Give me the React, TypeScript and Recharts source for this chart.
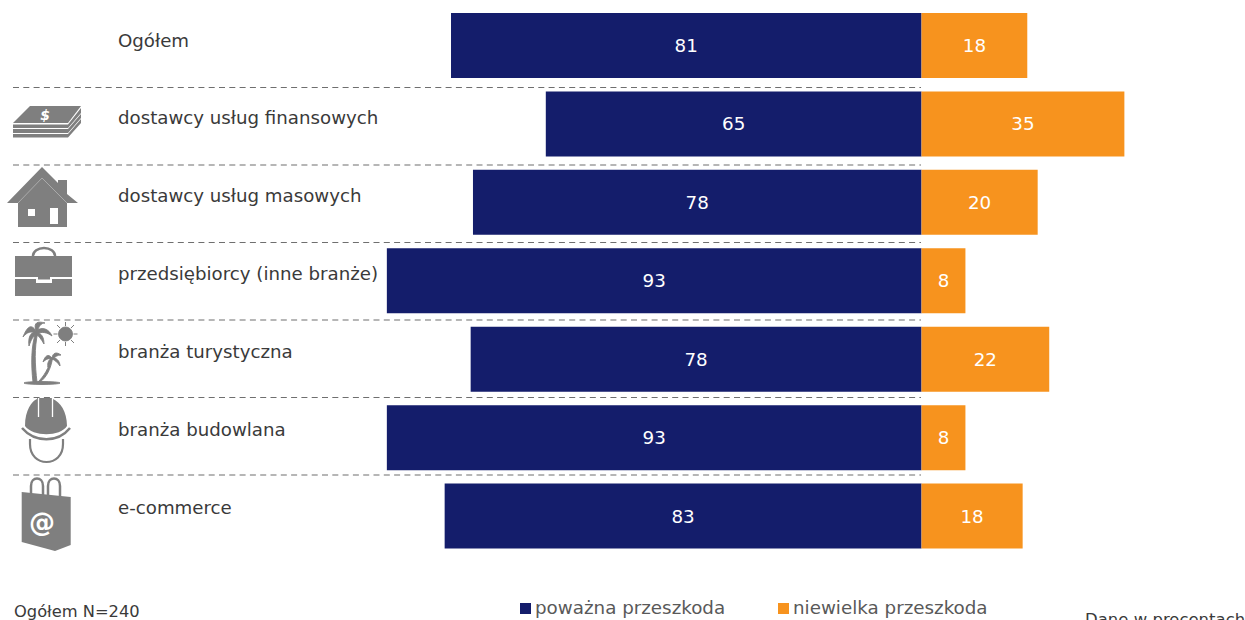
import React from 'react';
import { BarChart, Bar, XAxis, YAxis, Legend, LabelList } from 'recharts';

const categories = [
  'Ogółem',
  'dostawcy usług finansowych',
  'dostawcy usług masowych',
  'przedsiębiorcy (inne branże)',
  'branża turystyczna',
  'branża budowlana',
  'e-commerce',
];
const seriousLabels = [81, 65, 78, 93, 78, 93, 83];
const minorLabels = [18, 35, 20, 8, 22, 8, 18];
const seriousValues = [-81.4, -65, -77.6, -92.5, -78, -92.5, -82.5];
const minorValues = [18.3, 35.1, 20.1, 7.6, 22.1, 7.6, 17.5];

const data = categories.map((name, i) => ({
  name,
  serious: seriousValues[i],
  minor: minorValues[i],
  seriousLabel: seriousLabels[i],
  minorLabel: minorLabels[i],
}));

const NAVY = '#141d6b';
const ORANGE = '#f7931e';
const GREY = '#7f7f7f';
const FONT = '"DejaVu Sans", sans-serif';

const textY = [40.5, 117.5, 195.5, 274, 351.5, 429.5, 507.5];
const separatorY = [null, 87.5, 165, 242.5, 320, 397.5, 475];

const Icon = ({ index }: { index: number }) => {
  switch (index) {
    case 1:
      return (
        <g fill={GREY}>
          <path d="M30 106H81L68 123H13Z" />
          <path d="M13 124.5H68L81 108V113L68 128H13Z" />
          <path d="M13 129H68L81 114V118L68 133H13Z" />
          <path d="M13 134H68L81 119V123L68 137.5H13Z" />
          <text x={45} y={120} fontSize={14} fontWeight="bold" fill="#fff" textAnchor="middle" fontFamily={FONT} fontStyle="italic">$</text>
        </g>
      );
    case 2:
      return (
        <g>
          <path d="M58 180H67V194L78 203H67V227H18V203H7L42 167L58 183Z" fill={GREY} />
          <path d="M18 203L42 178L67 203" fill="none" stroke="#b5b5b5" strokeWidth={0.8} />
          <path d="M28 209H35V216H28Z" fill="#fff" />
          <path d="M50 208H58V224H50Z" fill="#fff" />
        </g>
      );
    case 3:
      return (
        <g fill={GREY}>
          <path d="M33 256A11 8 0 0 1 55 256" fill="none" stroke={GREY} strokeWidth={2.5} />
          <path d="M15 256H72V277H50V279.5H38V277H15Z" />
          <path d="M15 279H36V283H52V279H72V296H15Z" />
        </g>
      );
    case 4:
      return (
        <g fill={GREY} stroke={GREY} strokeWidth={0.9}>
          <circle cx={65.5} cy={334} r={7} />
          <path d="M65.5 322V326M65.5 342V346M53.5 334H57.5M73.5 334H77.500M57 325L60 328M71 340L74 343M57 343L60 340M71 328L74 325" strokeWidth={1} />
          <path d="M33 382C31 365 31 345 36 332L38 332C34 348 35 365 37 382Z" />
          <path d="M36 331C31 323 27 327 23 337C27 332 31 331 36 333Z" />
          <path d="M36 331C33 322 38 321 45 323C41 323 39 326 37 332Z" />
          <path d="M36 331C42 326 49 329 52 336C47 332 42 332 37 333Z" />
          <path d="M36 332C30 332 28 338 29 346C31 340 33 336 37 334Z" />
          <path d="M36 332C42 333 44 338 44 344C41 339 39 336 36 334Z" />
          <path d="M38 382C44 376 49 368 51 358L52.500 358C51 369 46 378 40 382Z" />
          <path d="M52 358C48 353 45 356 43 362C46 359 49 358 52 359Z" />
          <path d="M52 358C53 352 57 352 61 355C57 355 55 357 53 359Z" />
          <path d="M52 358C56 357 60 361 60 366C57 362 55 360 52 359Z" />
          <path d="M52 358C49 359 47 363 48 367C49 364 50 362 52 360Z" />
          <ellipse cx={42} cy={383} rx={18} ry={1.5} />
        </g>
      );
    case 5:
      return (
        <g>
          <path d="M25 426C25 410 32 401 37 399V398H53V399C60 402 67 411 67 426C60 437 33 437 25 426Z" fill={GREY} />
          <path d="M38.500 398V417M52.500 398V417" stroke="#fff" strokeWidth={1.3} fill="none" />
          <path d="M22 428C35 443 58 443 70 428" stroke={GREY} strokeWidth={2.5} fill="none" />
          <path d="M30 439V444C30 456 38 462 46.500 462C55 462 63 456 63 444V439" stroke={GREY} strokeWidth={2.2} fill="none" />
        </g>
      );
    case 6:
      return (
        <g>
          <path d="M31 497V486C31 476 43 476 43 486V497" stroke={GREY} strokeWidth={2.5} fill="none" />
          <path d="M48 498V486C48 476 60 476 60 486V498" stroke={GREY} strokeWidth={2.5} fill="none" />
          <path d="M21.700 492L70.700 497V545L55 551L21.700 542Z" fill={GREY} />
          <text x={42} y={531} fontSize={26} fontWeight="bold" fill="#fff" textAnchor="middle" fontFamily={FONT}>@</text>
        </g>
      );
    default:
      return null;
  }
};

const CategoryTick = ({ index, payload }: any) => (
  <g>
    {separatorY[index] !== null && (
      <line x1={13} x2={921} y1={separatorY[index]} y2={separatorY[index]} stroke="#6f6f6f" strokeWidth={1.2} strokeDasharray="6 4.3" />
    )}
    <Icon index={index} />
    <text x={118} y={textY[index]} dy="0.35em" fontSize={18.2} fill="#3a3a3a" fontFamily={FONT}>
      {payload.value}
    </text>
  </g>
);

const LegendContent = ({ payload }: any) => (
  <div style={{ display: 'flex', fontFamily: FONT, fontSize: 18.3, color: '#595959', lineHeight: '22px' }}>
    {(payload || []).map((item: any) => (
      <div key={item.value} style={{ display: 'flex', alignItems: 'center', width: 258 }}>
        <span style={{ width: 11, height: 11, background: item.color, marginRight: 4, display: 'inline-block' }} />
        {item.value}
      </div>
    ))}
  </div>
);

const App = () => (
  <div style={{ position: 'fixed', left: 0, top: 0, width: 1245, height: 620, overflow: 'hidden', background: '#fff' }}>
    <BarChart
      width={1245}
      height={620}
      data={data}
      layout="vertical"
      stackOffset="sign"
      barSize={65}
      barCategoryGap={0}
      margin={{ top: 6, right: 34.5, bottom: 43, left: 0 }}
    >
      <XAxis type="number" domain={[-100, 50]} hide />
      <YAxis type="category" dataKey="name" width={343.5} axisLine={false} tickLine={false} tick={<CategoryTick />} interval={0} />
      <Legend
        content={<LegendContent />}
        itemSorter={null as any}
        wrapperStyle={{ position: 'absolute', left: 520, top: 597, width: 600, bottom: 'auto' }}
      />
      <Bar dataKey="serious" name="poważna przeszkoda" stackId="a" fill={NAVY} isAnimationActive={false}>
        <LabelList dataKey="seriousLabel" position="center" fill="#fff" fontSize={18.3} fontFamily={FONT} />
      </Bar>
      <Bar dataKey="minor" name="niewielka przeszkoda" stackId="a" fill={ORANGE} isAnimationActive={false}>
        <LabelList dataKey="minorLabel" position="center" fill="#fff" fontSize={18.3} fontFamily={FONT} />
      </Bar>
    </BarChart>
    <div style={{ position: 'absolute', left: 14, top: 602, fontFamily: FONT, fontSize: 16.3, color: '#3a3a3a', whiteSpace: 'nowrap' }}>
      Ogółem N=240
    </div>
    <div style={{ position: 'absolute', left: 1085, top: 610, fontFamily: FONT, fontSize: 16.5, color: '#3a3a3a', whiteSpace: 'nowrap' }}>
      Dane w procentach
    </div>
  </div>
);

export default App;
